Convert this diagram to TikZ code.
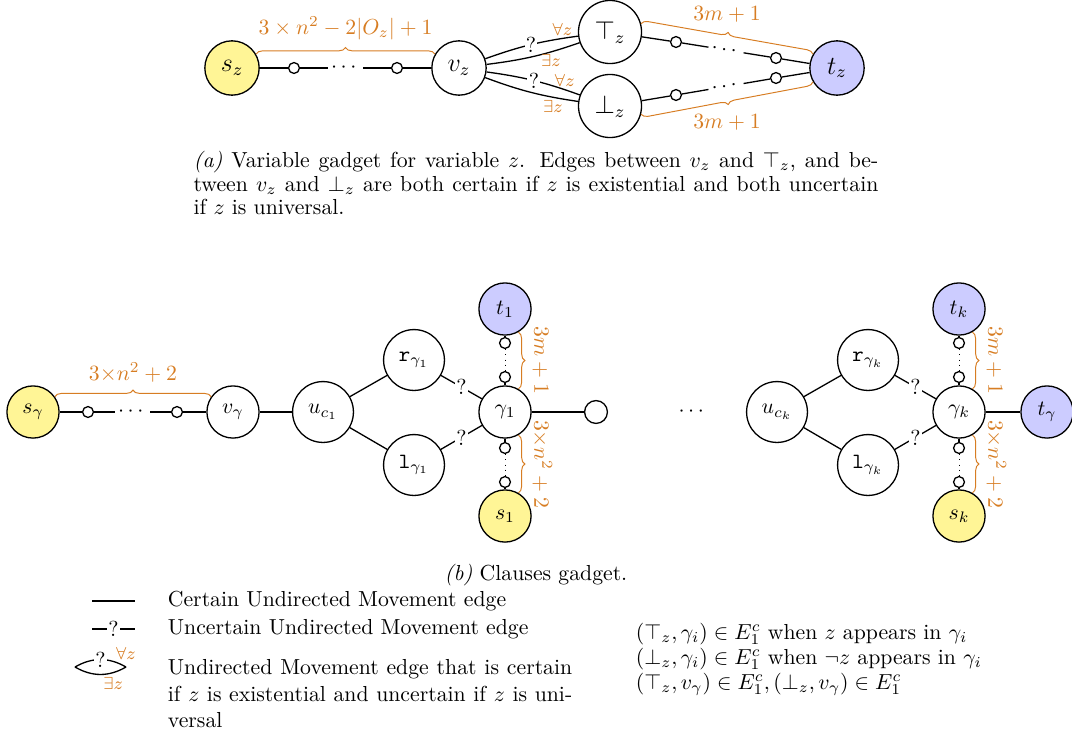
\documentclass[tikz,border=0pt]{standalone}
\usepackage{amsmath}
\usepackage{amssymb}
\usetikzlibrary{decorations.pathreplacing}

\definecolor{bracecol}{RGB}{215,125,35}
\definecolor{srccol}{RGB}{255,245,150}
\definecolor{tgtcol}{RGB}{204,204,255}

\tikzset{
	vert/.style={circle,draw,inner sep=0pt,minimum size=24pt},
	wide/.style={minimum size=28pt},
	topv/.style={minimum size=25pt,font=\large},
	topw/.style={minimum size=29pt,font=\large},
	src/.style={vert,fill=srccol},
	tgt/.style={vert,fill=tgtcol},
	dot/.style={circle,draw,fill=white,inner sep=0pt,minimum size=5pt},
	ask/.style={fill=white,inner sep=0.6pt},
	gap/.style={fill=white,inner sep=1.5pt},
	brc/.style={decorate,decoration={brace,amplitude=3pt},draw=bracecol,line width=0.45pt},
	brclab/.style={text=bracecol},
	qlab/.style={text=bracecol,font=\footnotesize,inner sep=1pt},
	txt/.style={font=\fontsize{10}{12}\selectfont},
}

\begin{document}
\begin{tikzpicture}[x=0.46pt,y=0.46pt,line width=0.6pt]
	\useasboundingbox (0,0) rectangle (1072,-736);

	% variable gadget
	\node[src,topv] (sz) at (232,-68) {$s_z$};
	\node[dot] (za) at (294,-68) {};
	\node[dot] (zb) at (397,-68) {};
	\node[vert,topv] (vz) at (459,-68) {$v_z$};
	\node[vert,topw] (top) at (610,-32) {$\top_z$};
	\node[vert,topw] (bot) at (610,-106) {$\bot_z$};
	\node[tgt,topv] (tz) at (837,-68) {$t_z$};
	\node[dot] (ta) at (676,-42) {};
	\node[dot] (tb) at (776,-58) {};
	\node[dot] (ba) at (676,-95) {};
	\node[dot] (bb) at (776,-78) {};

	\draw (sz) -- (za) -- node[gap]{$\cdots$} (zb) -- (vz);
	\draw (vz) to[bend left=6] node[ask]{?} node[qlab,pos=0.85,above]{$\forall z$} (top);
	\draw (vz) to[bend right=6] node[qlab,pos=0.7,below]{$\exists z$} (top);
	\draw (vz) to[bend left=6] node[ask]{?} node[qlab,pos=0.85,above]{$\forall z$} (bot);
	\draw (vz) to[bend right=6] node[qlab,pos=0.75,below]{$\exists z$} (bot);
	\draw (top) -- (ta) -- node[gap,sloped]{$\cdots$} (tb) -- (tz);
	\draw (bot) -- (ba) -- node[gap,sloped]{$\cdots$} (bb) -- (tz);

	\draw[brc] (sz.30) -- (vz.150) node[brclab,midway,above=3pt]{$3\times n^2-2|O_z|+1$};
	\draw[brc] (top.15) -- (tz.150) node[brclab,midway,above=4pt]{$3m+1$};
	\draw[brc] (tz.210) -- (bot.-15) node[brclab,midway,below=4pt]{$3m+1$};

	\node[text width=315pt,align=justify,font=\fontsize{10}{10.8}\selectfont] (capa) at (536,-183)
		{\textit{(a)} Variable gadget for variable $z$. Edges between $v_z$ and $\top_z$, and be-\linebreak
		tween $v_z$ and $\bot_z$ are both certain if $z$ is existential and both uncertain\linebreak
		if $z$ is universal.};

	% clauses gadget
	\node[src] (sg) at (33,-412) {$s_\gamma$};
	\node[dot] (ga) at (88,-412) {};
	\node[dot] (gb) at (177,-412) {};
	\node[vert] (vg) at (233,-412) {$v_\gamma$};

	\node[vert,wide] (u1) at (323,-412) {$u_{c_1}$};
	\node[vert,wide] (r1) at (414,-360) {$\mathtt{r}_{\gamma_1}$};
	\node[vert,wide] (l1) at (414,-465) {$\mathtt{l}_{\gamma_1}$};
	\node[vert] (g1) at (505,-412) {$\gamma_1$};
	\node[tgt] (t1) at (505,-309) {$t_1$};
	\node[src] (s1) at (505,-516) {$s_1$};
	\node[dot] (t1a) at (505,-343) {};
	\node[dot] (t1b) at (505,-377) {};
	\node[dot] (s1a) at (505,-448) {};
	\node[dot] (s1b) at (505,-482) {};
	\node[vert,minimum size=10.5pt] (e1) at (596,-412) {};

	\node (mid) at (693,-412) {$\cdots$};

	\node[vert,wide] (uk) at (777,-412) {$u_{c_k}$};
	\node[vert,wide] (rk) at (868,-360) {$\mathtt{r}_{\gamma_k}$};
	\node[vert,wide] (lk) at (868,-465) {$\mathtt{l}_{\gamma_k}$};
	\node[vert] (gk) at (959,-412) {$\gamma_k$};
	\node[tgt] (tk) at (959,-309) {$t_k$};
	\node[src] (sk) at (959,-516) {$s_k$};
	\node[dot] (tka) at (959,-343) {};
	\node[dot] (tkb) at (959,-377) {};
	\node[dot] (ska) at (959,-448) {};
	\node[dot] (skb) at (959,-482) {};
	\node[tgt] (tg) at (1047,-412) {$t_\gamma$};

	\draw (sg) -- (ga) -- node[gap]{$\cdots$} (gb) -- (vg) -- (u1);
	\draw (u1) -- (r1);
	\draw (u1) -- (l1);
	\draw (r1) -- node[ask]{?} (g1);
	\draw (l1) -- node[ask]{?} (g1);
	\draw (t1) -- (t1a);
	\draw[dotted,line width=0.4pt] (t1a) -- (t1b);
	\draw (t1b) -- (g1);
	\draw (g1) -- (s1a);
	\draw[dotted,line width=0.4pt] (s1a) -- (s1b);
	\draw (s1b) -- (s1);
	\draw (g1) -- (e1);

	\draw (uk) -- (rk);
	\draw (uk) -- (lk);
	\draw (rk) -- node[ask]{?} (gk);
	\draw (lk) -- node[ask]{?} (gk);
	\draw (tk) -- (tka);
	\draw[dotted,line width=0.4pt] (tka) -- (tkb);
	\draw (tkb) -- (gk);
	\draw (gk) -- (ska);
	\draw[dotted,line width=0.4pt] (ska) -- (skb);
	\draw (skb) -- (sk);
	\draw (gk) -- (tg);

	\draw[brc] (sg.35) -- (vg.145) node[brclab,midway,above=3pt]{$3{\times}n^2+2$};
	\draw[brc] (t1.-60) -- (g1.60) node[brclab,midway,right=3pt]{\rotatebox{-90}{$3m+1$}};
	\draw[brc] (g1.-60) -- (s1.60) node[brclab,midway,right=3pt]{\rotatebox{-90}{$3{\times}n^2+2$}};
	\draw[brc] (tk.-60) -- (gk.60) node[brclab,midway,right=3pt]{\rotatebox{-90}{$3m+1$}};
	\draw[brc] (gk.-60) -- (sk.60) node[brclab,midway,right=3pt]{\rotatebox{-90}{$3{\times}n^2+2$}};

	\node[txt] (capb) at (536,-575) {\textit{(b)} Clauses gadget.};

	% legend
	\coordinate (c1a) at (92,-601);
	\coordinate (c1b) at (135,-601);
	\coordinate (c2a) at (92,-629);
	\coordinate (c2b) at (135,-629);
	\coordinate (c3a) at (75,-667);
	\coordinate (c3b) at (126,-667);
	\draw (c1a) -- (c1b);
	\draw (c2a) -- node[ask]{?} (c2b);
	\draw (c3a) to[bend left=30] node[ask]{?} node[qlab,pos=1,above=2pt]{$\forall z$} (c3b);
	\draw (c3a) to[bend right=30] node[qlab,pos=0.75,below=1pt]{$\exists z$} (c3b);

	\node[txt,anchor=west] (leg1) at (160,-601) {Certain Undirected Movement edge};
	\node[txt,anchor=west] (leg2) at (160,-629) {Uncertain Undirected Movement edge};
	\node[txt,anchor=north west,text width=186pt,align=justify] (leg3) at (160,-652)
		{Undirected Movement edge that is certain if $z$ is existential and uncertain if $z$ is universal};

	\node[anchor=west,align=left,font=\fontsize{10}{11.5}\selectfont] (rel) at (628,-659)
		{$(\top_z,\gamma_i)\in E_1^c$ when $z$ appears in $\gamma_i$\\
		 $(\bot_z,\gamma_i)\in E_1^c$ when $\neg z$ appears in $\gamma_i$\\
		 $(\top_z,v_\gamma)\in E_1^c,(\bot_z,v_\gamma)\in E_1^c$};
\end{tikzpicture}
\end{document}
